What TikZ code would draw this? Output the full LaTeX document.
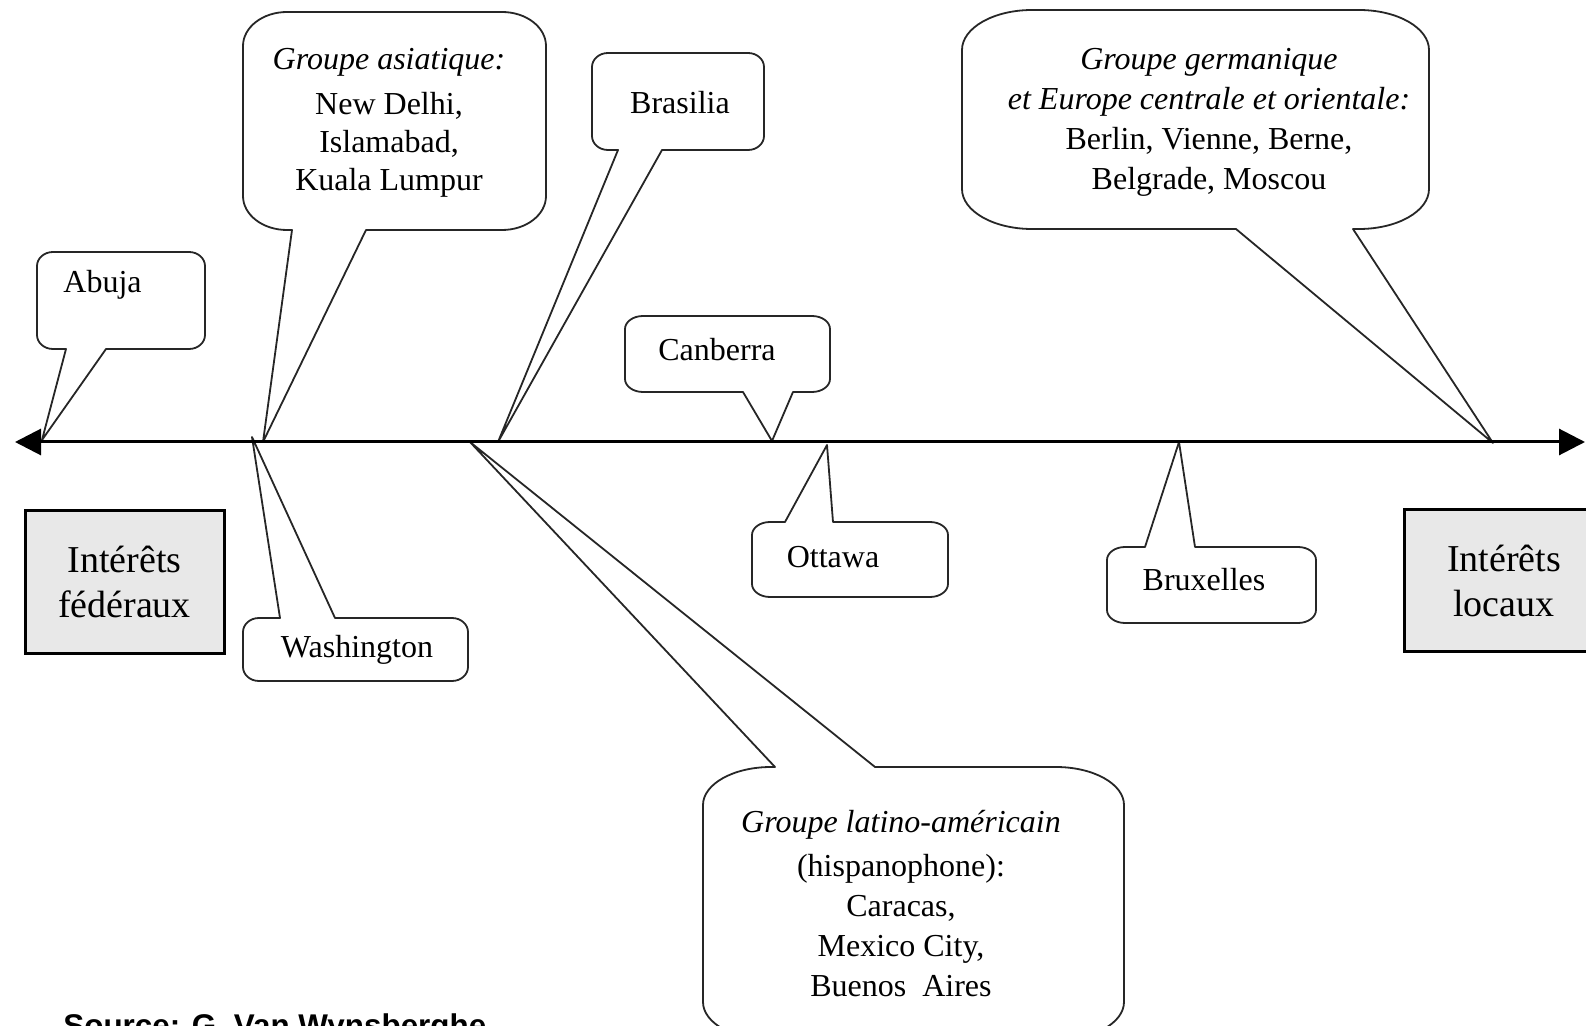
\documentclass[tikz,border=0pt]{standalone}
\usepackage{fontspec}
\setmainfont{Liberation Serif}
\newfontfamily\srcfont{Liberation Sans}
\usetikzlibrary{arrows.meta}
% bubble with pointer on the bottom edge: x1 y1 x2 y2 rx ry pa pb tip
\newcommand{\bubbleBot}[9]{%
\draw[bubline] (#8,#4) -- (#3-#5,#4) .. controls (#3-0.448*#5,#4) and (#3,#4-0.448*#6) .. (#3,#4-#6)
 -- (#3,#2+#6) .. controls (#3,#2+0.448*#6) and (#3-0.448*#5,#2) .. (#3-#5,#2)
 -- (#1+#5,#2) .. controls (#1+0.448*#5,#2) and (#1,#2+0.448*#6) .. (#1,#2+#6)
 -- (#1,#4-#6) .. controls (#1,#4-0.448*#6) and (#1+0.448*#5,#4) .. (#1+#5,#4)
 -- (#7,#4) -- (#9) -- cycle;}
% bubble with pointer on the top edge
\newcommand{\bubbleTop}[9]{%
\draw[bubline] (#7,#2) -- (#1+#5,#2) .. controls (#1+0.448*#5,#2) and (#1,#2+0.448*#6) .. (#1,#2+#6)
 -- (#1,#4-#6) .. controls (#1,#4-0.448*#6) and (#1+0.448*#5,#4) .. (#1+#5,#4)
 -- (#3-#5,#4) .. controls (#3-0.448*#5,#4) and (#3,#4-0.448*#6) .. (#3,#4-#6)
 -- (#3,#2+#6) .. controls (#3,#2+0.448*#6) and (#3-0.448*#5,#2) .. (#3-#5,#2)
 -- (#8,#2) -- (#9) -- cycle;}
\begin{document}
\begin{tikzpicture}[x=0.5pt,y=-0.5pt,
  bubline/.style={draw=black!85, line width=0.9pt, line join=round},
  lbl/.style={font=\fontsize{16}{19}\selectfont, align=center, inner sep=0pt},
  lblw/.style={font=\fontsize{16}{20}\selectfont, align=center, inner sep=0pt},
  intbox/.style={draw=black, line width=1.5pt, fill=black!9, align=center,
    font=\fontsize{19}{22.5}\selectfont, minimum width=99.5pt, minimum height=71pt, inner sep=0pt},
  axisline/.style={line width=1.5pt, {Triangle[length=13pt,width=13pt]}-{Triangle[length=13pt,width=13pt]}}]
\useasboundingbox (0,0) rectangle (1586,1026);
\clip (0,0) rectangle (1586,1026);

% axis points
\coordinate (axL) at (15,442);
\coordinate (axR) at (1585,442);
\coordinate (tAbuja) at (42,440);
\coordinate (tAsia) at (263,442);
\coordinate (tWash) at (252,437);
\coordinate (tBras) at (498,442);
\coordinate (tLat) at (470,442);
\coordinate (tCanb) at (772,441);
\coordinate (tOtt) at (827,445);
\coordinate (tBrux) at (1179,442);
\coordinate (tGerm) at (1493,443);

% boxes
\node[intbox] (fed) at (124.5,582) {Intérêts\\fédéraux};
\node[intbox] (loc) at (1504,580.5) {Intérêts\\locaux};

% callouts
\bubbleBot{37}{252}{205}{349}{16}{14}{66}{106}{tAbuja}
\bubbleBot{243}{12}{546}{230}{44}{34}{292}{366}{tAsia}
\bubbleTop{243}{618}{468}{681}{16}{14}{280}{335}{tWash}
\bubbleBot{592}{53}{764}{150}{16}{14}{618}{662}{tBras}
\bubbleBot{625}{316}{830}{392}{18}{13}{743}{793}{tCanb}
\bubbleTop{752}{522}{948}{597}{18}{13}{785}{833}{tOtt}
\bubbleTop{1107}{547}{1316}{623}{18}{13}{1145}{1195}{tBrux}
\bubbleBot{962}{10}{1429}{229}{70}{40}{1236}{1353}{tGerm}
\bubbleTop{703}{767}{1124}{1040}{68}{38}{775}{875}{tLat}

% labels
\node[lbl, anchor=base west] (lAbuja) at (63,293) {Abuja};
\node[lbl] (lAsia) at (389,123) {\textit{Groupe asiatique:}\\[3.5pt]New Delhi,\\Islamabad,\\Kuala Lumpur};
\node[lbl] (lWash) at (357,650) {Washington};
\node[lbl] (lBras) at (680,103) {Brasilia};
\node[lbl] (lCanb) at (717,350) {Canberra};
\node[lbl] (lOtt) at (833,557) {Ottawa};
\node[lbl] (lBrux) at (1204,580) {Bruxelles};
\node[lblw] (lGerm) at (1209,122) {\textit{Groupe germanique}\\\textit{et Europe centrale et orientale:}\\Berlin, Vienne, Berne,\\Belgrade, Moscou};
\node[lblw] (lLat) at (901,904) {\textit{Groupe latino-américain}\\[2pt](hispanophone):\\Caracas,\\Mexico City,\\Buenos~ Aires};

% axis
\draw[axisline] (axL) -- (axR);

% source
\node[anchor=base west, inner sep=0pt, font=\srcfont\bfseries\fontsize{15.7}{18}\selectfont] (src) at (63,1036) {Source: G. Van Wynsberghe};
\end{tikzpicture}
\end{document}
